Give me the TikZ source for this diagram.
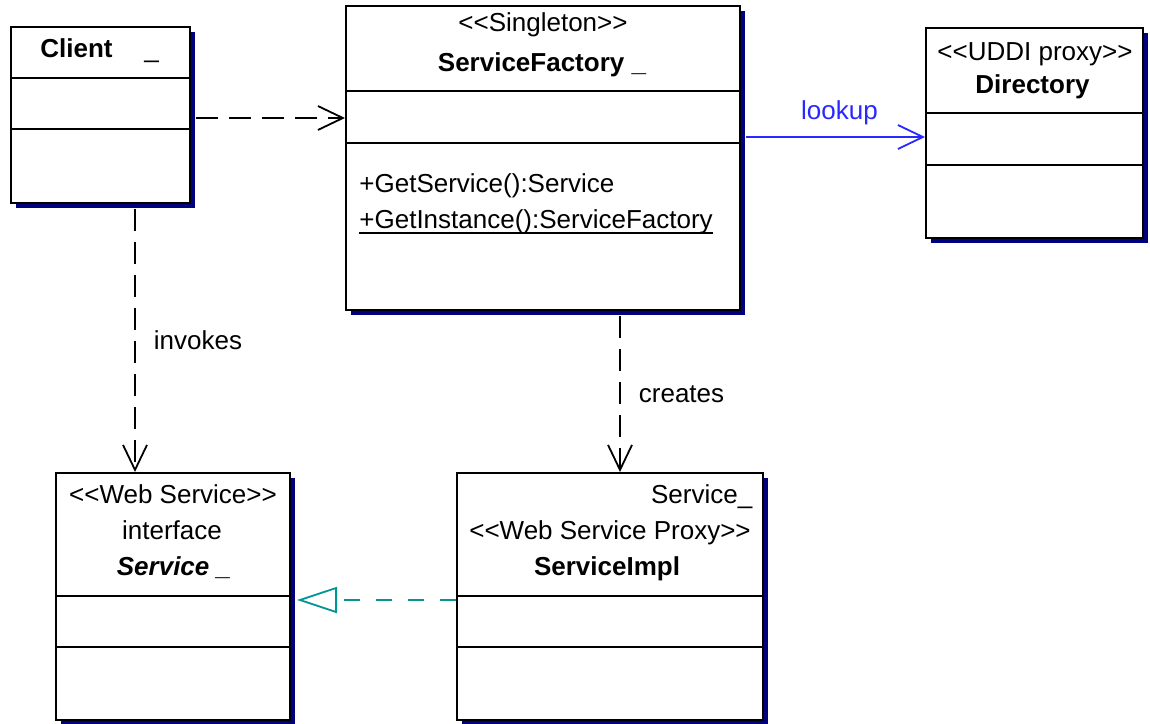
\documentclass[tikz,border=0pt]{standalone}
\usepackage{fontspec}
\setmainfont{Liberation Sans}
\usetikzlibrary{arrows.meta,shadows}
\definecolor{shadowblue}{RGB}{0,0,128}
\definecolor{lookupblue}{RGB}{40,40,255}
\definecolor{realteal}{RGB}{0,150,150}
\newcommand{\stlt}{\textless\kern0pt\textless\kern0pt}
\newcommand{\stgt}{\kern0pt\textgreater\kern0pt\textgreater}
\begin{document}
\fontsize{13}{15}\selectfont
\begin{tikzpicture}[x=0.5pt,y=-0.5pt,
  umlbox/.style={draw=black, line width=1pt, fill=white, rectangle, inner sep=0pt,
    general shadow={shadow xshift=2.5pt, shadow yshift=-2.5pt, fill=shadowblue}},
  divider/.style={line width=0.75pt},
  txt/.style={inner sep=0pt, anchor=base},
  lbl/.style={inner sep=0pt},
  dep/.style={line width=0.9pt, dash pattern=on 11pt off 5.5pt,
    -{Straight Barb[length=12.5pt,width=12pt,line width=0.9pt]}},
  lookuparrow/.style={draw=lookupblue, line width=0.9pt,
    -{Straight Barb[length=12.5pt,width=12pt,line width=0.9pt]}},
  realarrow/.style={draw=realteal, line width=0.9pt, dash pattern=on 8pt off 8pt,
    -{Triangle[length=20pt,width=13pt,fill=white,line width=0.9pt]}}
]
\fill[white] (0,0) rectangle (1150,723);
\useasboundingbox (0,0) rectangle (1150,723);

% class boxes
\node[umlbox, minimum width=89.5pt, minimum height=88pt] (client) at (100.5,115) {};
\node[umlbox, minimum width=197pt, minimum height=152pt] (sf) at (543,158) {};
\node[umlbox, minimum width=108.5pt, minimum height=105pt] (dir) at (1034.5,133) {};
\node[umlbox, minimum width=117pt, minimum height=123.5pt] (svc) at (173,596.5) {};
\node[umlbox, minimum width=153pt, minimum height=123.5pt] (impl) at (610,596.5) {};

% compartments
\draw[divider] ([shift={(0,52)}]client.north west) -- ([shift={(0,52)}]client.north east);
\draw[divider] ([shift={(0,103)}]client.north west) -- ([shift={(0,103)}]client.north east);
\draw[divider] ([shift={(0,86)}]sf.north west) -- ([shift={(0,86)}]sf.north east);
\draw[divider] ([shift={(0,138)}]sf.north west) -- ([shift={(0,138)}]sf.north east);
\draw[divider] ([shift={(0,86)}]dir.north west) -- ([shift={(0,86)}]dir.north east);
\draw[divider] ([shift={(0,138)}]dir.north west) -- ([shift={(0,138)}]dir.north east);
\draw[divider] ([shift={(0,124)}]svc.north west) -- ([shift={(0,124)}]svc.north east);
\draw[divider] ([shift={(0,175)}]svc.north west) -- ([shift={(0,175)}]svc.north east);
\draw[divider] ([shift={(0,124)}]impl.north west) -- ([shift={(0,124)}]impl.north east);
\draw[divider] ([shift={(0,175)}]impl.north west) -- ([shift={(0,175)}]impl.north east);

% texts
\node[txt, anchor=base west, font=\bfseries] (clientname) at (40,57) {Client};
\node[txt, anchor=base west] (clientmark) at (144,57) {\_};
\node[txt] (sfstereo) at (543,31) {\stlt Singleton\stgt};
\node[txt, font=\bfseries] (sfname) at (542,71) {ServiceFactory \_};
\node[txt, anchor=base west] (getservice) at (359,192) {+GetService():Service};
\node[txt, anchor=base west] (getinstance) at (359,228) {+GetInstance():ServiceFactory};
\draw[line width=0.6pt] ([yshift=-2.5pt]getinstance.base west) -- ([yshift=-2.5pt]getinstance.base east);
\node[txt] (dirstereo) at (1035,60) {\stlt UDDI proxy\stgt};
\node[txt, font=\bfseries] (dirname) at (1032.5,93) {Directory};
\node[txt] (svcstereo) at (173,503) {\stlt Web Service\stgt};
\node[txt] (svckind) at (172,539) {interface};
\node[txt, font=\bfseries\itshape] (svcname) at (174,575) {Service \_};
\node[txt, anchor=base east] (impliface) at (752.7,503) {Service\_};
\node[txt] (implstereo) at (610,539) {\stlt Web Service Proxy\stgt};
\node[txt, font=\bfseries] (implname) at (607,575) {ServiceImpl};

% connectors
\draw[dep] ([shift={(5,3)}]client.east) -- ([shift={(0,-40)}]sf.west);
\draw[dep] ([shift={(34.5,5)}]client.south) --
  node[lbl, midway, anchor=west, xshift=9pt] (invokeslbl) {invokes} ([shift={(-38,0)}]svc.north);
\draw[dep] ([shift={(77,5)}]sf.south) --
  node[lbl, midway, anchor=west, xshift=9pt] (createslbl) {creates} ([shift={(10,0)}]impl.north);
\draw[lookuparrow] ([shift={(5,-21)}]sf.east) --
  node[lbl, midway, anchor=base, yshift=9pt, text=lookupblue, xshift=2pt] (lookuplbl) {lookup} ([shift={(0,4)}]dir.west);
\draw[realarrow] ([shift={(0,3.5)}]impl.west) -- ([shift={(6,3.5)}]svc.east);
\end{tikzpicture}
\end{document}
